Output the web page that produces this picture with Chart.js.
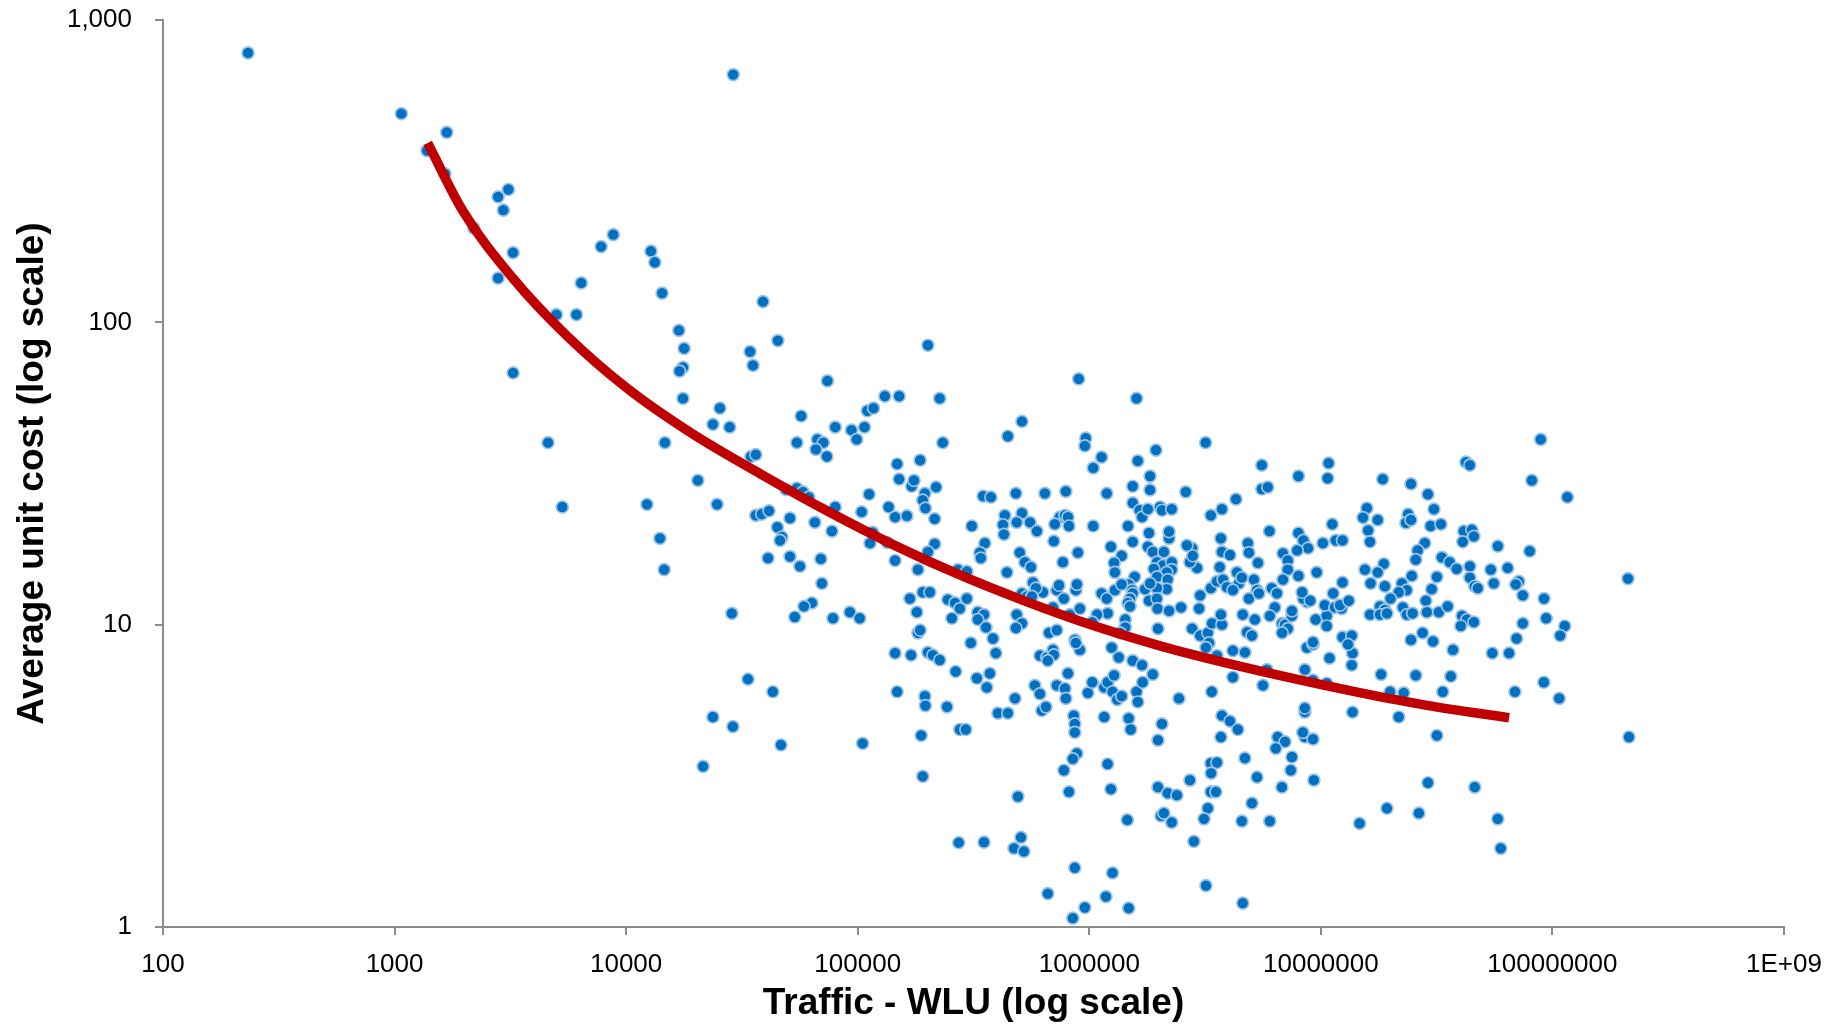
<!DOCTYPE html>
<html lang="en">
<head>
  <meta charset="UTF-8" />
  <title>Average unit cost vs traffic</title>
  <script src="https://cdn.jsdelivr.net/npm/chart.js@4.4.1/dist/chart.umd.min.js"></script>
  <style>
    html, body { margin: 0; padding: 0; background: #fff; }
    #wrap { width: 1844px; height: 1026px; position: relative; }
  </style>
</head>
<body>
  <div id="wrap"><canvas id="costChart"></canvas></div>

  <script>
    // traffic (WLU) per site, same order as unitCost below
    const trafficWLU = [
      233, 2.9e4, 1070, 1680, 1380, 1650, 3100, 2800, 2950, 2200,
      3250, 2800, 6400, 8800, 7800, 1.28e4, 1.33e4, 5000, 6100, 1.43e4,
      1.69e4, 1.78e4, 1.76e4, 1.7e4, 3.9e4, 3.43e4, 3.53e4, 4.52e4, 3250, 1.76e4,
      2.01e5, 4600,
      7.4e4, 2.54e4, 2.37e4, 2.8e4, 1.47e4, 5.7e4, 5.46e4, 6.7e4, 7.1e4, 6.6e4,
      7.36e4, 8.0e4, 9.4e4, 9.9e4, 1.07e5, 1.1e5, 1.17e5, 1.31e5, 1.51e5, 2.26e5,
      2.33e5, 3.46e4, 3.63e4, 2.04e4, 1.23e4, 5300, 2.47e4, 1.4e4, 1.46e4, 2.86e4,
      3.63e4, 3.85e4, 4.14e4, 4.9e4, 5.46e4, 5.8e4, 6.15e4, 5.1e4, 4.5e4, 4.71e4,
      4.62e4, 6.53e4, 7.74e4, 8.0e4, 1.04e5, 1.12e5, 4.1e4, 5.1e4, 5.63e4, 6.93e4,
      7.0e4, 6.34e4, 5.86e4, 5.35e4, 7.82e4, 9.25e4, 1.02e5, 1.16e5, 1.13e5, 1.34e5,
      1.45e5, 1.48e5, 1.51e5, 1.86e5, 1.71e5, 1.75e5, 1.95e5, 1.91e5, 1.96e5, 2.18e5,
      2.15e5, 1.36e5, 1.45e5, 1.63e5, 2.15e5, 2.01e5, 1.68e5, 1.8e5, 1.91e5, 2.05e5,
      2.45e5, 2.63e5, 2.76e5, 2.55e5, 1.82e5, 1.86e5, 1.45e5, 1.7e5, 2.01e5, 2.11e5,
      2.26e5, 2.71e5, 1.82e5,
      2.65e5, 3.36e4, 4.3e4, 2.37e4, 2.89e4, 4.66e4, 2.15e4, 1.05e5, 1.48e5, 1.95e5,
      1.96e5, 2.43e5, 1.88e5, 1.91e5, 2.76e5, 2.73e5,
      9.0e5, 1.6e6, 5.12e5, 4.45e5, 9.66e5, 9.57e5, 1.13e6, 1.04e6, 1.94e6, 1.62e6,
      3.18e6, 1.83e6, 1.83e6, 1.54e6, 3.48e5, 3.76e5, 4.82e5, 6.43e5, 7.92e5, 1.19e6,
      2.61e6, 5.56e6, 5.56e6, 5.9e6, 8.0e6, 1.08e7, 1.07e7, 4.3e6, 3.74e6, 3.35e6,
      1.54e6, 1.65e6, 1.69e6, 1.79e6, 2.02e6, 2.06e6, 2.27e6, 4.32e5, 5.12e5, 4.86e5,
      4.24e5, 4.28e5, 5.55e5, 5.94e5, 3.11e5, 7.46e5, 7.85e5, 8.09e5, 7.1e5, 8.17e5,
      1.04e6, 1.47e6, 7.03e5, 3.54e5, 3.37e5, 3.4e5, 5.01e5, 5.27e5, 5.6e5, 4.41e5,
      2.96e5, 7.69e5, 8.93e5, 1.24e6, 1.38e6, 1.28e6, 1.29e6, 1.54e6, 1.81e6, 1.79e6,
      1.88e6, 2.1e6, 2.21e6, 2.21e6, 1.96e6, 2.08e6, 1.9e6, 2.27e6, 2.27e6, 2.16e6,
      1.96e6, 2.18e6, 2.16e6, 1.96e6, 1.74e6, 1.83e6, 1.57e6, 1.48e6, 1.53e6, 1.54e6,
      1.5e6, 1.47e6, 1.5e6, 1.81e6, 1.96e6, 1.97e6, 2.21e6, 2.49e6, 1.98e6, 1.13e6,
      1.19e6, 1.29e6, 1.38e6, 1.2e6, 1.08e6, 1.03e6, 9.11e5, 8.75e5, 8.84e5, 7.24e5,
      7.4e5, 7.77e5, 6.97e5, 6.31e5, 5.71e5, 5.88e5, 5.12e5, 5.38e5, 5.65e5, 4.86e5,
      5.12e5, 4.82e5, 2.96e5, 3.3e5, 3.51e5, 3.3e5, 3.58e5, 3.84e5, 3.95e5,
      3.08e5, 6.7e5, 7.24e5, 8.24e5, 8.67e5, 9.11e5, 6.12e5, 6.56e5, 6.97e5, 7.03e5,
      1.25e6, 1.34e6, 1.43e6, 1.43e6, 1.36e6, 3.01e6, 2.98e6, 2.78e6, 3.01e6, 3.25e6,
      3.39e6, 3.74e6, 3.7e6, 3.29e6, 3.19e6, 3.56e6, 3.35e6, 3.56e6, 3.66e6, 3.78e6,
      3.93e6, 4.34e6, 4.43e6, 4.17e6, 4.56e6, 3.7e6, 3.74e6, 4.05e6, 2.92e6, 2.72e6,
      2.78e6, 2.64e6, 2.8e6, 4.84e6, 4.89e6, 5.35e6, 5.14e6, 5.3e6, 4.89e6, 5.4e6,
      5.19e6, 4.6e6, 4.8e6, 5.04e6, 6.14e6, 6.46e6, 6.33e6, 6.02e6, 6.8e6, 7.0e6,
      7.2e6, 6.8e6, 7.5e6, 7.5e6, 8.0e6, 9.6e6, 8.7e6, 8.4e6, 8.3e6, 9.0e6,
      9.5e6, 1.06e7, 1.06e7, 1.04e7, 1.15e7, 1.23e7, 1.21e7, 1.32e7, 1.13e7, 1.24e7,
      8.0e6, 8.4e6, 8.8e6, 7.9e6, 1.02e7, 1.16e7, 1.24e7, 1.12e7,
      8.7e6, 9.25e6, 1.09e7, 1.24e7, 1.36e7, 1.37e7, 1.31e7, 4.17e6, 4.7e6, 6.0e6,
      6.86e6, 7.2e6, 7.2e6, 6.86e6,
      3.72e5, 3.27e5, 3.61e5, 4.78e5, 4.03e5, 4.45e5, 2.93e5, 6.62e5, 8.75e5, 8.09e5,
      1.54e6, 1.69e6, 1.88e6, 5.82e5, 6.12e5, 6.24e5, 6.5e5, 7.24e5, 7.85e5, 7.92e5,
      9.86e5, 1.03e6, 1.16e6, 1.2e6, 1.28e6, 1.26e6, 1.32e6, 1.38e6, 1.6e6, 1.62e6,
      1.7e6, 8.57e5, 8.66e5, 8.66e5, 8.84e5, 8.49e5, 7.77e5, 8.17e5, 1.16e6, 1.48e6,
      1.51e6, 1.98e6, 2.06e6, 2.44e6, 3.38e6, 4.17e6, 3.74e6, 4.05e6, 4.38e6, 3.7e6,
      1.98e6, 2.18e6, 2.39e6, 2.72e6, 3.35e6, 3.56e6, 3.36e6, 4.7e6, 5.3e6, 3.35e6,
      3.52e6, 3.25e6, 3.13e6, 2.04e6, 2.1e6, 2.27e6, 1.46e6, 2.83e6, 3.19e6, 4.6e6,
      4.56e6, 5.04e6, 6.02e6, 6.79e6, 7.42e6, 7.5e6, 6.51e6, 7.0e6, 6.39e6, 9.33e6,
      8.53e6, 9.25e6, 8.36e6, 8.53e6, 8.53e6, 8.53e6, 9.25e6, 1.06e7, 9.25e6, 1.36e7,
      1.37e7, 1.47e7, 5.85e6, 5.62e6, 4.92e5, 5.07e5, 4.73e5, 5.22e5, 3.51e5, 8.66e5,
      6.62e5, 9.57e5, 8.49e5, 1.18e6, 1.26e6, 1.48e6, 1.24e6, 1.2e6,
      8.9e7, 4.23e7, 4.4e7, 8.15e7, 1.16e8, 1.85e7, 2.45e7, 2.9e7, 3.08e7, 1.58e7,
      1.52e7, 1.76e7, 1.6e7, 1.63e7, 2.38e7, 2.33e7, 2.45e7, 2.98e7, 3.3e7, 4.14e7,
      4.49e7, 4.58e7, 4.1e7, 5.81e7, 7.98e7, 2.81e7, 2.62e7, 2.57e7, 3.33e7, 3.6e7,
      3.86e7, 4.4e7, 4.4e7, 4.62e7, 4.76e7, 5.42e7, 5.58e7, 6.41e7, 7.16e7, 6.95e7,
      7.45e7, 9.2e7, 9.4e7, 1.13e8, 1.08e8, 7.45e7, 7.0e7, 5.5e7, 6.5e7, 2.12e8,
      1.87e7, 1.55e7, 1.76e7, 1.64e7, 1.89e7, 2.47e7, 2.24e7, 2.35e7, 2.17e7, 2.0e7,
      1.8e7, 1.89e7, 1.63e7, 1.8e7, 1.93e7, 2.26e7, 2.35e7, 2.49e7, 2.84e7, 2.87e7,
      3.01e7, 3.17e7, 3.23e7, 3.53e7, 4.07e7, 4.27e7, 4.58e7, 4.02e7, 2.75e7, 3.05e7,
      2.45e7, 3.72e7,
      1.82e7, 2.57e7, 3.64e7, 1.99e7, 2.28e7, 3.36e7, 6.89e7, 9.18e7, 1.07e8,
      2.17e7, 3.17e7, 2.14e8, 2.9e7, 4.62e7, 1.93e7, 2.65e7, 5.81e7, 5.98e7
    ];

    // average unit cost per site
    const unitCost = [
      778, 660, 490, 425, 370, 310, 275, 260, 235, 205,
      170, 140, 135, 195, 178, 172, 158, 106, 106, 125,
      94, 82, 71, 69, 117, 80, 72, 87, 68, 56,
      84, 40,
      64, 52, 46, 45, 40, 49, 40, 41, 40, 38,
      36, 45, 44, 41, 45, 51, 52, 57, 57, 56,
      40, 36, 36.5, 30, 25, 24.5, 25, 19.3, 15.2, 10.9,
      23, 23.2, 23.8, 28, 28.3, 27.5, 26.4, 22.5, 21, 19.5,
      19.0, 21.8, 20.4, 24.5, 23.6, 27, 16.6, 16.8, 15.6, 16.5,
      13.7, 11.8, 11.5, 10.6, 10.5, 11.0, 10.5, 20.2, 18.6, 18.7,
      16.3, 34, 30.3, 35, 28.7, 30, 27.2, 25.8, 24.3, 28.5,
      22.4, 24.5, 22.7, 22.9, 18.5, 17.4, 12.2, 11.0, 12.8, 12.8,
      12.1, 11.8, 11.3, 10.5, 9.4, 9.6, 8.05, 7.93, 8.1, 7.93,
      7.64, 15.2, 15.2,
      7.0, 6.6, 6.0, 4.95, 4.6, 4.0, 3.4, 4.05, 6.0, 5.8,
      5.4, 5.35, 4.3, 3.15, 4.5, 1.9,
      65, 56, 47, 42, 41.4, 39, 35.8, 33, 37.8, 34.8,
      40, 31, 27.9, 28.7, 26.6, 26.4, 27.2, 27.2, 27.6, 27.2,
      27.5, 33.7, 28.1, 28.5, 31, 34.2, 30.5, 26, 24.1, 23,
      25.3, 23.9, 22.7, 24.1, 24.5, 23.9, 24.1, 23, 23.4, 21.8,
      21.4, 19.9, 21.8, 20.4, 21.2, 22.7, 23, 22.7, 21.5, 21.2,
      21.2, 21.2, 18.9, 18.6, 17.3, 16.6, 17.3, 16.1, 15.5, 14.9,
      15.0, 16.1, 17.3, 18.1, 16.9, 16.0, 14.9, 18.8, 20.1, 18.1,
      17.4, 17.4, 19.3, 20.3, 16.1, 15.7, 15.3, 16.1, 15.2, 14.9,
      14.4, 14.1, 13.1, 13.2, 13.1, 13.7, 14.4, 13.6, 13.0, 12.7,
      12.2, 11.8, 11.5, 12.0, 12.2, 11.3, 11.1, 11.4, 9.7, 12.7,
      12.2, 13.0, 13.6, 10.9, 10.8, 10.2, 11.3, 13.0, 13.6, 13.0,
      13.5, 12.2, 11.4, 12.8, 13.8, 13.2, 12.7, 12.4, 12.4, 10.8,
      10.1, 9.75, 12.2, 11.0, 10.8, 10.4, 9.8, 9.0, 8.05,
      8.7, 9.4, 9.6, 10.8, 8.9, 8.25, 7.9, 7.8, 8.25, 7.95,
      8.4, 7.8, 10.4, 9.8, 9.4, 12.5, 11.3, 9.7, 9.2, 9.4,
      10.1, 10.0, 10.8, 8.7, 8.4, 7.9, 13.2, 13.9, 15.5, 14.1,
      13.3, 14.9, 13.7, 13.0, 14.3, 19.3, 17.4, 17.0, 15.4, 16.1,
      17.9, 18.3, 16.9, 18.6, 17.3, 16.0, 14.1, 13.0, 12.2, 12.7,
      10.4, 10.8, 9.45, 9.2, 13.2, 12.7, 11.4, 10.7, 10.1, 10.0,
      9.7, 9.4, 10.7, 11.1, 14.5, 14.9, 11.9, 12.2, 12.8, 12.0,
      10.4, 10.7, 9.9, 11.6, 11.4, 11.3, 11.6, 12.0, 12.7, 13.8,
      20.1, 19.0, 17.9, 17.6, 18.6, 19.0, 19.0, 21.5,
      8.4, 8.6, 7.75, 9.1, 9.2, 8.05, 8.6, 8.2, 8.1, 20.4,
      17.2, 16.3, 15.2, 14.1,
      6.9, 6.65, 6.2, 5.7, 5.1, 5.1, 4.5, 7.6, 8.7, 6.9,
      7.6, 7.35, 6.85, 6.3, 5.9, 5.2, 5.35, 6.3, 6.15, 5.7,
      5.95, 6.45, 6.2, 6.45, 6.8, 6.0, 5.65, 5.8, 6.0, 5.55,
      6.45, 5.0, 4.7, 4.4, 3.75, 3.6, 3.3, 2.8, 4.95, 4.9,
      4.5, 4.15, 4.7, 5.7, 6.0, 6.7, 5.0, 4.8, 4.5, 4.25,
      2.9, 2.77, 2.73, 3.06, 3.48, 3.5, 3.23, 3.62, 3.13, 2.8,
      2.8, 2.47, 2.28, 2.33, 2.38, 2.22, 2.26, 1.92, 1.37, 1.2,
      2.24, 2.57, 2.24, 2.9, 3.3, 3.65, 4.25, 4.1, 3.9, 3.06,
      4.25, 4.18, 4.4, 5.14, 5.3, 7.1, 8.75, 6.4, 6.55, 7.35,
      5.14, 2.2, 7.1, 6.3, 2.7, 1.98, 1.82, 1.78, 1.91, 1.57,
      1.29, 1.16, 1.07, 1.26, 1.51, 1.155, 2.86, 3.46,
      41, 34.5, 33.7, 30, 26.4, 30.3, 29.2, 27, 24.1, 24.3,
      22.6, 22.2, 20.5, 18.8, 23.2, 21.7, 22.2, 21.2, 21.5, 20.4,
      20.6, 19.6, 18.8, 18.2, 17.5, 18.6, 17.6, 16.4, 16.7, 16.1,
      15.3, 15.6, 14.3, 13.4, 13.2, 15.2, 13.7, 15.4, 13.9, 13.6,
      12.5, 12.2, 10.5, 9.9, 9.2, 10.1, 9.0, 8.05, 8.05, 14.2,
      15.9, 15.2, 14.9, 13.7, 13.4, 14.5, 13.7, 13.0, 12.8, 12.2,
      11.5, 11.2, 10.8, 10.8, 10.9, 11.4, 10.8, 10.9, 12.0, 11.0,
      13.1, 14.4, 11.0, 11.5, 10.7, 10.4, 10.2, 9.9, 9.4, 8.8,
      8.9, 8.25,
      6.85, 6.8, 6.75, 6.0, 5.95, 6.0, 6.0, 6.45, 5.7,
      4.95, 4.3, 4.25, 3.0, 2.9, 2.47, 2.38, 2.28, 1.82
    ];

    // red trend curve, read along its centre
    const fitTraffic = [1390, 1970, 3240, 5550, 1.01e4, 1.94e4, 3.78e4, 7.36e4, 1.42e5,
      2.76e5, 5.38e5, 1.04e6, 2.02e6, 3.93e6, 7.57e6, 1.47e7, 2.87e7, 6.5e7];
    const fitCost = [392, 234, 140, 90.2, 60.5, 42.7, 31.6, 23.8, 18.4,
      14.6, 11.9, 9.93, 8.51, 7.46, 6.64, 5.96, 5.41, 4.92];

    const xTickValues = [1e2, 1e3, 1e4, 1e5, 1e6, 1e7, 1e8, 1e9];
    const xTickLabels = ['100', '1000', '10000', '100000', '1000000', '10000000', '100000000', '1E+09'];
    const yTickValues = [1, 10, 100, 1000];
    const yTickLabels = ['1', '10', '100', '1,000'];

    const fontFamily = "'Liberation Sans', Arial, sans-serif";
    const axisGrey = '#8c8c8c';

    const points = trafficWLU.map((x, i) => ({ x: x, y: unitCost[i] }));
    const fitLine = fitTraffic.map((x, i) => ({ x: x, y: fitCost[i] }));

    function fixedTicks(values) {
      return function (scale) {
        scale.ticks = values.map((v) => ({ value: v }));
      };
    }
    function tickText(values, labels) {
      return function (value) {
        const i = values.indexOf(value);
        return i < 0 ? '' : labels[i];
      };
    }

    new Chart(document.getElementById('costChart'), {
      type: 'scatter',
      data: {
        datasets: [
          {
            type: 'line',
            label: 'Trend',
            data: fitLine,
            showLine: true,
            borderColor: '#c00000',
            borderWidth: 9.5,
            borderCapStyle: 'butt',
            pointRadius: 0,
            cubicInterpolationMode: 'monotone',
            fill: false,
            order: 0,
          },
          {
            label: 'Sites',
            data: points,
            backgroundColor: '#0070c0',
            borderColor: '#9dc3e6',
            borderWidth: 1.7,
            pointRadius: 6,
            order: 1,
          },
        ],
      },
      options: {
        responsive: true,
        maintainAspectRatio: false,
        animation: false,
        devicePixelRatio: 1,
        layout: { padding: { top: 20, right: 60, bottom: 0, left: 0 } },
        plugins: { legend: { display: false }, tooltip: { enabled: false } },
        scales: {
          x: {
            type: 'logarithmic',
            min: 1e2,
            max: 1e9,
            afterBuildTicks: fixedTicks(xTickValues),
            afterFit: (scale) => { scale.height = 99; },
            border: { display: true, color: axisGrey, width: 2 },
            grid: { drawOnChartArea: false, drawTicks: true, tickLength: 8, color: axisGrey, lineWidth: 2 },
            ticks: {
              autoSkip: false,
              maxRotation: 0,
              padding: 14,
              color: '#000',
              font: { family: fontFamily, size: 26 },
              callback: tickText(xTickValues, xTickLabels),
            },
            title: {
              display: true,
              text: 'Traffic - WLU (log scale)',
              color: '#000',
              font: { family: fontFamily, size: 37, weight: 'bold' },
              padding: { top: 0, bottom: 0 },
            },
          },
          y: {
            type: 'logarithmic',
            min: 1,
            max: 1000,
            afterBuildTicks: fixedTicks(yTickValues),
            afterFit: (scale) => {
              scale.width = 163;
              // label padding would otherwise push the plot top down
              scale.paddingTop = 0;
              scale.paddingBottom = 0;
            },
            border: { display: true, color: axisGrey, width: 2 },
            grid: { drawOnChartArea: false, drawTicks: true, tickLength: 8, color: axisGrey, lineWidth: 2 },
            ticks: {
              autoSkip: false,
              padding: 23,
              color: '#000',
              font: { family: fontFamily, size: 26 },
              callback: tickText(yTickValues, yTickLabels),
            },
            title: {
              display: true,
              text: 'Average unit cost (log scale)',
              color: '#000',
              font: { family: fontFamily, size: 37, weight: 'bold' },
              padding: { top: 11, bottom: 0 },
            },
          },
        },
      },
    });
  </script>
</body>
</html>
